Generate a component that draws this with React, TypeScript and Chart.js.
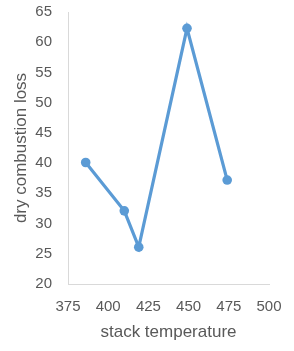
import React, { useEffect, useRef } from "react";
import { Chart, registerables } from "chart.js";

Chart.register(...registerables);

const stackTemperature = [386, 410, 419, 449, 474];
const dryCombustionLoss = [40.1, 32.1, 26.1, 62.3, 37.2];
const xTicks = [375, 400, 425, 450, 475, 500];
const yTicks = [20, 25, 30, 35, 40, 45, 50, 55, 60, 65];

const FONT = "'Liberation Sans', Arial, sans-serif";
const TEXT = "#595959";
const AXIS = "#d9d9d9";

export default function App() {
  const ref = useRef<HTMLCanvasElement | null>(null);
  useEffect(() => {
    document.body.style.margin = "0";
    const ctx = ref.current!;
    const chart = new Chart(ctx, {
      type: "scatter",
      data: {
        datasets: [
          {
            data: stackTemperature.map((x, i) => ({ x, y: dryCombustionLoss[i] })),
            showLine: true,
            borderColor: "#5b9bd5",
            backgroundColor: "#5b9bd5",
            borderWidth: 3.2,
            pointRadius: 4.8,
            pointBorderWidth: 0,
            pointHoverRadius: 4.8,
          },
        ],
      },
      options: {
        animation: false,
        responsive: false,
        maintainAspectRatio: false,
        layout: { padding: { top: 12, right: 25, left: 0, bottom: 0 } },
        plugins: { legend: { display: false }, tooltip: { enabled: false } },
        scales: {
          x: {
            type: "linear",
            min: 375,
            max: 500,
            afterBuildTicks: (s: any) => {
              s.ticks = xTicks.map((v) => ({ value: v }));
            },
            afterFit: (s: any) => {
              s.height = 67;
              s.paddingLeft = 0;
              s.paddingRight = 0;
            },
            grid: { display: false, drawTicks: false },
            border: { display: true, color: AXIS, width: 1 },
            ticks: { color: TEXT, font: { family: FONT, size: 15 }, padding: 14, maxRotation: 0 },
            title: {
              display: true,
              text: "stack temperature",
              color: TEXT,
              font: { family: FONT, size: 17 },
              padding: { top: 8, bottom: 8 },
            },
          },
          y: {
            type: "linear",
            min: 20,
            max: 65,
            afterBuildTicks: (s: any) => {
              s.ticks = yTicks.map((v) => ({ value: v }));
            },
            afterFit: (s: any) => {
              s.width = 68;
              s.paddingTop = 0;
              s.paddingBottom = 0;
            },
            grid: { display: false, drawTicks: false },
            border: { display: true, color: AXIS, width: 1 },
            ticks: { color: TEXT, font: { family: FONT, size: 15 }, padding: 16 },
            title: {
              display: true,
              text: "dry combustion loss",
              color: TEXT,
              font: { family: FONT, size: 17 },
              padding: { top: 11, bottom: 11 },
            },
          },
        },
      },
    });
    return () => chart.destroy();
  }, []);
  return <canvas ref={ref} width={294} height={351} style={{ display: "block" }} />;
}
